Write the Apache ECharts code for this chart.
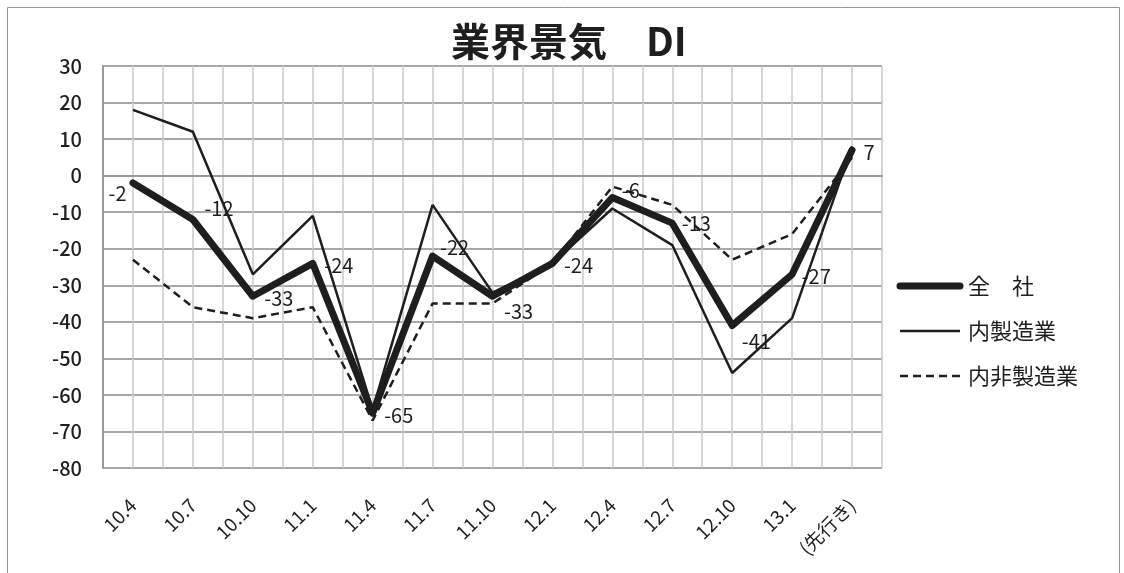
<!DOCTYPE html>
<html>
<head>
<meta charset="utf-8">
<script src="https://cdn.jsdelivr.net/npm/echarts@6/dist/echarts.min.js"></script>
<style>
  html, body { margin: 0; padding: 0; background: #fff; }
  #chart { width: 1124px; height: 573px; }
</style>
</head>
<body>
<div id="chart"></div>
<script>
// periods on the x axis
const categories = ['10.4', '10.7', '10.10', '11.1', '11.4', '11.7', '11.10', '12.1', '12.4', '12.7', '12.10', '13.1', '(先行き)'];
// 全社 (labelled values)
const allCompanies = [-2, -12, -33, -24, -65, -22, -33, -24, -6, -13, -41, -27, 7];
// 内製造業
const manufacturing = [18, 12, -27, -11, -64, -8, -32, -24, -9, -19, -54, -39, 8];
// 内非製造業
const nonManufacturing = [-23, -36, -39, -36, -67, -35, -35, -24, -3, -8, -23, -16, 5];
// y axis ticks
const yMin = -80, yMax = 30, yStep = 10;

// label placement offsets for the 全社 values
const labelOffsets = [[-30, 10], [6, -11], [6, 2], [6, 2], [6, 2], [2, -9], [6, 15], [6, 2], [4, -7], [4, 0], [4, 16], [4, 2], [6, 2]];

const FONT = '"Noto Sans CJK JP", "Noto Sans", sans-serif';
const ink = '#1e1e1e';

// legend entries: name, line width, dash
const legendItems = [
  { name: '全　社', width: 7, dash: null },
  { name: '内製造業', width: 2.5, dash: null },
  { name: '内非製造業', width: 2.5, dash: [8, 5] }
];

const chart = echarts.init(document.getElementById('chart'));

// hand drawn legend on the right
const legendGraphics = [];
legendItems.forEach((it, i) => {
  const y = 286 + i * 45;
  legendGraphics.push({
    type: 'line',
    shape: { x1: 900, y1: y, x2: 960, y2: y },
    style: { stroke: ink, lineWidth: it.width, lineDash: it.dash, lineCap: it.width > 5 ? 'round' : 'butt' },
    silent: true
  });
  legendGraphics.push({
    type: 'text',
    x: 968, y: y,
    style: { text: it.name, font: '22px ' + FONT, fill: ink, verticalAlign: 'middle', align: 'left' },
    silent: true
  });
});

const option = {
  backgroundColor: '#fff',
  animation: false,
  textStyle: { fontFamily: FONT },
  title: {
    text: '業界景気　DI',
    left: 446,
    top: 17,
    textStyle: { fontFamily: FONT, fontSize: 39, fontWeight: 'bold', color: ink }
  },
  grid: { left: 103, right: 242, top: 66, bottom: 105, containLabel: false },
  xAxis: [{
    type: 'category',
    data: categories,
    boundaryGap: true,
    axisLine: { lineStyle: { color: '#999', width: 2 } },
    axisTick: { show: false },
    splitLine: { show: false },
    axisLabel: { rotate: 45, margin: 34, fontSize: 19, color: ink, fontFamily: FONT, interval: 0 }
  }, {
    type: 'value',
    min: 0, max: 26, interval: 1,
    position: 'top',
    axisLine: { show: false },
    axisTick: { show: false },
    axisLabel: { show: false },
    splitLine: { show: true, lineStyle: { color: '#c8c8c8', width: 1.5 } }
  }],
  yAxis: {
    type: 'value',
    min: yMin, max: yMax, interval: yStep,
    axisLine: { show: true, lineStyle: { color: '#999', width: 2 } },
    axisTick: { show: false },
    splitLine: { lineStyle: { color: '#a8a8a8', width: 2 } },
    axisLabel: { margin: 21, fontSize: 20, color: ink, fontFamily: FONT, fontWeight: 500 }
  },
  series: [{
    name: '内非製造業',
    type: 'line',
    data: nonManufacturing,
    symbol: 'none',
    lineStyle: { color: ink, width: 2.5, type: [8, 5] },
    itemStyle: { color: ink },
    z: 2
  }, {
    name: '内製造業',
    type: 'line',
    data: manufacturing,
    symbol: 'none',
    lineStyle: { color: ink, width: 2.5 },
    itemStyle: { color: ink },
    z: 3
  }, {
    name: '全　社',
    type: 'line',
    data: allCompanies.map((v, i) => ({
      value: v,
      label: { offset: labelOffsets[i] }
    })),
    symbol: 'circle',
    symbolSize: 1,
    lineStyle: { color: ink, width: 7, cap: 'round', join: 'round' },
    itemStyle: { color: ink },
    label: {
      show: true,
      position: 'right',
      fontSize: 20,
      color: ink,
      fontFamily: FONT
    },
    z: 4
  }],
  graphic: [{
    type: 'rect',
    shape: { x: 7.5, y: 7.5, width: 1112, height: 570 },
    style: { fill: 'none', stroke: '#999', lineWidth: 1 },
    silent: true
  }].concat(legendGraphics)
};

chart.setOption(option);
</script>
</body>
</html>
